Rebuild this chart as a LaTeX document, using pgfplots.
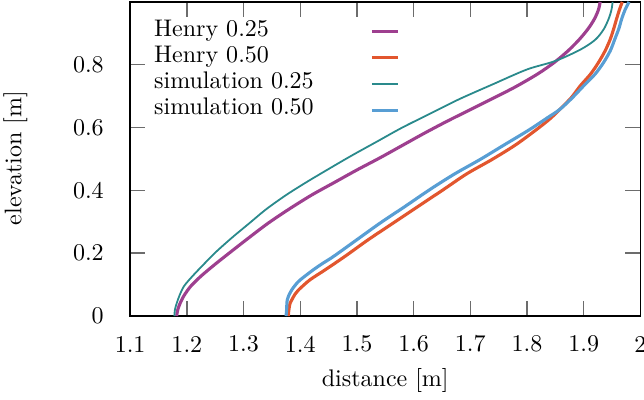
\documentclass[border=0pt]{standalone}
\usepackage{pgfplots}
\pgfplotsset{compat=1.18}
\definecolor{cpurple}{RGB}{158,63,143}
\definecolor{corange}{RGB}{226,86,46}
\definecolor{cteal}{RGB}{42,138,140}
\definecolor{cblue}{RGB}{88,158,212}
\begin{document}
\begin{tikzpicture}
\begin{axis}[
  scale only axis,
  width=212.5pt, height=130.8pt,
  xmin=1.1, xmax=2, ymin=0, ymax=1,
  xtick={1.1,1.2,1.3,1.4,1.5,1.6,1.7,1.8,1.9,2},
  xticklabels={1.1,1.2,1.3,1.4,1.5,1.6,1.7,1.8,1.9,2},
  ytick={0,0.2,0.4,0.6,0.8},
  yticklabels={0,0.2,0.4,0.6,0.8},
  tick pos=both,
  tick align=inside,
  major tick length=6.25pt,
  tick style={color=gray!85!black, line width=0.6pt},
  axis line style={black, line width=0.7pt},
  xticklabel style={anchor=center, inner sep=0pt, yshift=-11.7pt},
  yticklabel style={anchor=east, inner sep=0pt, xshift=-10.8pt},
  xlabel={distance [m]},
  ylabel={elevation [m]},
  xlabel style={at={(axis description cs:0.5,-0.206)}, anchor=center, inner sep=0pt},
  ylabel style={at={(axis description cs:-0.225,0.503)}, anchor=center, inner sep=0pt},
  legend plot pos=right,
  legend cell align=left,
  legend image code/.code={\path[draw=none] (0pt,0pt) -- (24.2pt,0pt); \draw[#1] (24.2pt,0pt) -- (35pt,0pt);},
  legend style={at={(rel axis cs:0,1)}, anchor=north west, xshift=10.0pt, yshift=-6.95pt,
    draw=none, fill=none, inner sep=0pt, outer sep=0pt, row sep=0pt, column sep=0pt,
    nodes={inner sep=0pt, outer sep=0pt, text height=7.4pt, text depth=3.5pt}},
]
\addplot[cpurple, line width=1.3pt, smooth, tension=0.5] coordinates {
(1.182,0) (1.184,0.02) (1.188,0.04) (1.195,0.065) (1.207,0.095) (1.225,0.127)
(1.25,0.165) (1.278,0.205) (1.31,0.25) (1.343,0.295) (1.38,0.34) (1.42,0.385)
(1.46,0.425) (1.50,0.465) (1.54,0.503) (1.58,0.543) (1.62,0.583) (1.66,0.621)
(1.70,0.657) (1.74,0.693) (1.78,0.73) (1.82,0.772) (1.85,0.81) (1.874,0.847)
(1.893,0.882) (1.908,0.915) (1.919,0.946) (1.926,0.975) (1.929,1.0)
};
\addlegendentry{Henry 0.25}
\addplot[corange, line width=1.3pt, smooth, tension=0.5] coordinates {
(1.379,0) (1.380,0.02) (1.382,0.04) (1.385,0.051) (1.391,0.07) (1.397,0.083)
(1.417,0.115) (1.444,0.147) (1.479,0.19) (1.52,0.243) (1.564,0.296) (1.608,0.349)
(1.653,0.403) (1.694,0.453) (1.738,0.498) (1.78,0.545) (1.817,0.594)
(1.84,0.627) (1.858,0.658) (1.878,0.695) (1.894,0.733) (1.912,0.77) (1.926,0.807)
(1.938,0.845) (1.947,0.882) (1.953,0.915) (1.958,0.946) (1.963,0.975) (1.968,1.0)
};
\addlegendentry{Henry 0.50}
\addplot[cteal, line width=0.75pt, smooth, tension=0.5] coordinates {
(1.178,0) (1.179,0.02) (1.182,0.04) (1.187,0.065) (1.195,0.095) (1.21,0.127)
(1.23,0.165) (1.252,0.205) (1.28,0.25) (1.31,0.295) (1.34,0.34) (1.375,0.385)
(1.41,0.425) (1.45,0.468) (1.49,0.51) (1.535,0.555) (1.58,0.6) (1.63,0.645)
(1.68,0.69) (1.74,0.738) (1.80,0.785) (1.85,0.812) (1.894,0.848) (1.92,0.879)
(1.935,0.912) (1.944,0.946) (1.949,0.975) (1.951,1.0)
};
\addlegendentry{simulation 0.25}
\addplot[cblue, line width=1.3pt, smooth, tension=0.5] coordinates {
(1.375,0) (1.376,0.02) (1.377,0.05) (1.381,0.07) (1.385,0.083) (1.392,0.1)
(1.40,0.115) (1.423,0.147) (1.44,0.168) (1.459,0.19) (1.5,0.243) (1.541,0.296)
(1.585,0.349) (1.629,0.403) (1.672,0.452) (1.717,0.498) (1.76,0.545) (1.805,0.594)
(1.835,0.63) (1.858,0.658) (1.88,0.695) (1.9,0.733) (1.92,0.77) (1.935,0.807)
(1.947,0.845) (1.955,0.882) (1.962,0.915) (1.967,0.946) (1.973,0.975) (1.98,1.0)
};
\addlegendentry{simulation 0.50}
\end{axis}
\pgfresetboundingbox
\useasboundingbox ([shift={(-54.2pt,-34.6pt)}]current axis.south west) rectangle ([shift={(1.5pt,0.8pt)}]current axis.north east);
\end{tikzpicture}
\end{document}
